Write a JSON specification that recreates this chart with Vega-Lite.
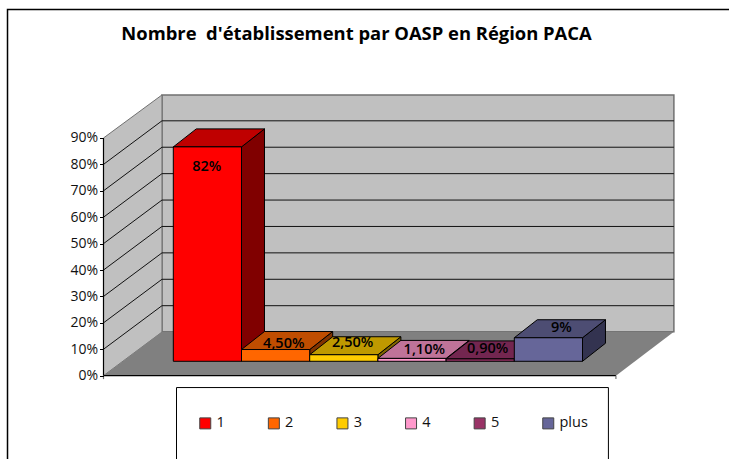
{
"$schema":"https://vega.github.io/schema/vega-lite/v6.json",
"width":729,"height":459,"autosize":"none","padding":0,"background":"white",
"title":{"text":"Nombre \u00a0d'établissement par OASP en Région PACA","anchor":"middle","baseline":"alphabetic","offset":-58,"dx":-8,"font":"Open Sans","fontWeight":"bold","fontSize":18.4,"color":"#000"},
"config":{"view":{"stroke":null}},
"datasets":{"grid":[{"t":10},{"t":20},{"t":30},{"t":40},{"t":50},{"t":60},{"t":70},{"t":80}]},
"data":{"values":[
{"serie":"1","value":82,"label":"82%"},
{"serie":"2","value":4.5,"label":"4,50%"},
{"serie":"3","value":2.5,"label":"2,50%"},
{"serie":"4","value":1.1,"label":"1,10%"},
{"serie":"5","value":0.9,"label":"0,90%"},
{"serie":"plus","value":9,"label":"9%"}]},
"transform":[
{"calculate":"indexof(['1','2','3','4','5','plus'],datum.serie)","as":"i"},
{"calculate":"datum.i","as":"x0"},{"calculate":"datum.i+1","as":"x1"},
{"calculate":"5.45","as":"yb"},{"calculate":"5.45+datum.value*0.99","as":"yt"}],
"layer":[
{"data":{"values":[{"w":"cadre"}]},"mark":{"type":"rect","fill":"white","stroke":"#000","strokeWidth":1.5},
 "encoding":{"x":{"datum":-2.431,"type":"quantitative","scale":{"domain":[-2.5411,8.1481],"nice":false,"zero":false},"axis":null},"x2":{"datum":8.5},
 "y":{"datum":138.66,"type":"quantitative","scale":{"domain":[-31.55,142.25],"nice":false,"zero":false},"axis":null},"y2":{"datum":-45}}},
{"data":{"values":[{"w":"legende"}]},"mark":{"type":"rect","fill":"white","stroke":"#000","strokeWidth":1},
 "encoding":{"x":{"datum":0.0469,"type":"quantitative","scale":{"domain":[-2.5411,8.1481],"nice":false,"zero":false},"axis":null},"x2":{"datum":6.38},
 "y":{"datum":-4.5,"type":"quantitative","scale":{"domain":[-31.55,142.25],"nice":false,"zero":false},"axis":null},"y2":{"datum":-45}}},
{"data":{"values":[{"w":"fond"}]},"mark":{"type":"rect","fill":"#C0C0C0","stroke":"#707070","strokeWidth":1.5},
 "encoding":{"x":{"datum":-0.166,"type":"quantitative","scale":{"domain":[-2.5411,8.1481],"nice":false,"zero":false},"axis":null},"x2":{"datum":7.34},
 "y":{"datum":16.6,"type":"quantitative","scale":{"domain":[-31.55,142.25],"nice":false,"zero":false},"axis":null},"y2":{"datum":106.3}}},
{"data":{"values":[{"k":0},{"k":1}]},
 "transform":[{"calculate":"-1.0235+datum.k*0.8575","as":"px"},{"calculate":"datum.k*16.5","as":"lo"},{"calculate":"90+datum.k*16.3","as":"hi"}],
 "mark":{"type":"area","fill":"#C0C0C0","stroke":"#707070","strokeWidth":1},
 "encoding":{"x":{"field":"px","type":"quantitative","scale":{"domain":[-2.5411,8.1481],"nice":false,"zero":false},"axis":null},
 "y":{"field":"lo","type":"quantitative","scale":{"domain":[-31.55,142.25],"nice":false,"zero":false},"axis":null},"y2":{"field":"hi"}}},
{"data":{"name":"grid"},"transform":[{"calculate":"datum.t+16.5","as":"gy"}],"mark":{"type":"rule","color":"#111","strokeWidth":1},
 "encoding":{"x":{"datum":-0.166,"type":"quantitative","scale":{"domain":[-2.5411,8.1481],"nice":false,"zero":false},"axis":null},"x2":{"datum":7.34},
 "y":{"field":"gy","type":"quantitative","scale":{"domain":[-31.55,142.25],"nice":false,"zero":false},"axis":null}}},
{"data":{"name":"grid"},"transform":[{"calculate":"datum.t+16.5","as":"gy2"}],"mark":{"type":"rule","color":"#111","strokeWidth":1},
 "encoding":{"x":{"datum":-1.0235,"type":"quantitative","scale":{"domain":[-2.5411,8.1481],"nice":false,"zero":false},"axis":null},"x2":{"datum":-0.166},
 "y":{"field":"t","type":"quantitative","scale":{"domain":[-31.55,142.25],"nice":false,"zero":false},"axis":null},"y2":{"field":"gy2"}}},
{"data":{"values":[{"k":0},{"k":1}]},
 "transform":[{"calculate":"datum.k*16.6","as":"py"},{"calculate":"-1.0235+datum.k*0.8575","as":"pl"},{"calculate":"6.49+datum.k*0.85","as":"pr"}],
 "mark":{"type":"area","orient":"horizontal","fill":"#808080"},
 "encoding":{"y":{"field":"py","type":"quantitative","scale":{"domain":[-31.55,142.25],"nice":false,"zero":false},"axis":null},
 "x":{"field":"pl","type":"quantitative","scale":{"domain":[-2.5411,8.1481],"nice":false,"zero":false},"axis":null},"x2":{"field":"pr"}}},
{"transform":[{"calculate":"[0,1]","as":"k"},{"flatten":["k"]},{"calculate":"datum.x1+datum.k*0.337","as":"sx"},{"calculate":"datum.yb+datum.k*6.82","as":"s0"},{"calculate":"datum.yt+datum.k*6.82","as":"s1"}],
 "mark":{"type":"area","stroke":"#000","strokeWidth":1},
 "encoding":{"x":{"field":"sx","type":"quantitative","scale":{"domain":[-2.5411,8.1481],"nice":false,"zero":false},"axis":null},
 "y":{"field":"s0","type":"quantitative","scale":{"domain":[-31.55,142.25],"nice":false,"zero":false},"axis":null},"y2":{"field":"s1"},
 "fill":{"field":"serie","type":"nominal","legend":null,"scale":{"domain":["1","2","3","4","5","plus"],"range":["#800000","#803300","#806600","#804D66","#4D1A33","#333350"]}}}},
{"transform":[{"calculate":"[0,1]","as":"k"},{"flatten":["k"]},{"calculate":"datum.yt+datum.k*6.82","as":"ty"},{"calculate":"datum.x0+datum.k*0.337","as":"tl"},{"calculate":"datum.x1+datum.k*0.337","as":"tr"}],
 "mark":{"type":"area","orient":"horizontal","stroke":"#000","strokeWidth":1},
 "encoding":{"y":{"field":"ty","type":"quantitative","scale":{"domain":[-31.55,142.25],"nice":false,"zero":false},"axis":null},
 "x":{"field":"tl","type":"quantitative","scale":{"domain":[-2.5411,8.1481],"nice":false,"zero":false},"axis":null},"x2":{"field":"tr"},
 "fill":{"field":"serie","type":"nominal","legend":null,"scale":{"domain":["1","2","3","4","5","plus"],"range":["#BF0000","#BF4D00","#BF9900","#BF7399","#732650","#4D4D73"]}}}},
{"mark":{"type":"rect","stroke":"#000","strokeWidth":1},
 "encoding":{"x":{"field":"x0","type":"quantitative","scale":{"domain":[-2.5411,8.1481],"nice":false,"zero":false},"axis":null},"x2":{"field":"x1"},
 "y":{"field":"yb","type":"quantitative","scale":{"domain":[-31.55,142.25],"nice":false,"zero":false},"axis":null},"y2":{"field":"yt"},
 "fill":{"field":"serie","type":"nominal","scale":{"domain":["1","2","3","4","5","plus"],"range":["#FF0000","#FF6600","#FFCC00","#FF99CC","#993366","#666699"]},
 "legend":{"title":null,"orient":"none","legendX":198,"legendY":416,"direction":"horizontal","columns":6,"symbolType":"square","symbolSize":121,"symbolStrokeColor":"#444","symbolStrokeWidth":1,"labelFont":"Open Sans","labelFontSize":14.5,"labelColor":"#111","columnPadding":40.6,"labelOffset":4,"padding":0,"gridAlign":"each"}}}},
{"transform":[{"calculate":"{'1':-0.01,'2':0.12,'3':0.13,'4':0.18,'5':0.11,'plus':0.19}[datum.serie]+datum.i+0.5","as":"lx"},{"calculate":"datum.yt+{'1':-7.5,'2':2.2,'3':4.5,'4':3,'5':3.8,'plus':3.8}[datum.serie]","as":"ly"}],
 "mark":{"type":"text","font":"Open Sans","fontSize":14.5,"color":"#000","baseline":"middle","align":"center","fontWeight":600},
 "encoding":{"x":{"field":"lx","type":"quantitative","scale":{"domain":[-2.5411,8.1481],"nice":false,"zero":false},"axis":null},
 "y":{"field":"ly","type":"quantitative","scale":{"domain":[-31.55,142.25],"nice":false,"zero":false},"axis":null},"text":{"field":"label"}}},
{"data":{"values":[{"w":"axe"}]},"mark":{"type":"rule","color":"#000","strokeWidth":1.2},
 "encoding":{"x":{"datum":-1.0235,"type":"quantitative","scale":{"domain":[-2.5411,8.1481],"nice":false,"zero":false},"axis":null},
 "y":{"datum":0,"type":"quantitative","scale":{"domain":[-31.55,142.25],"nice":false,"zero":false},"axis":{"orient":"left","offset":-103.5,"zindex":1,"values":[0,10,20,30,40,50,60,70,80,90],"labelExpr":"datum.value+'%'","domain":false,"grid":false,"title":null,"tickSize":4,"tickColor":"#000","labelFont":"Open Sans","labelFontSize":14,"labelColor":"#111","labelPadding":2}},"y2":{"datum":90}}},
{"data":{"values":[{"w":"sol"}]},"mark":{"type":"rule","color":"#000","strokeWidth":1.2},
 "encoding":{"x":{"datum":-1.0235,"type":"quantitative","scale":{"domain":[-2.5411,8.1481],"nice":false,"zero":false},"axis":null},"x2":{"datum":6.49},
 "y":{"datum":0,"type":"quantitative","scale":{"domain":[-31.55,142.25],"nice":false,"zero":false},"axis":null}}},
{"data":{"values":[{"px":-1.0235},{"px":6.49}]},"mark":{"type":"rule","color":"#707070","strokeWidth":1.2},
 "encoding":{"x":{"field":"px","type":"quantitative","scale":{"domain":[-2.5411,8.1481],"nice":false,"zero":false},"axis":null},
 "y":{"datum":0,"type":"quantitative","scale":{"domain":[-31.55,142.25],"nice":false,"zero":false},"axis":null},"y2":{"datum":-1.3}}}
],
"resolve":{"scale":{"fill":"independent"},"axis":{"y":"independent"}}
}
